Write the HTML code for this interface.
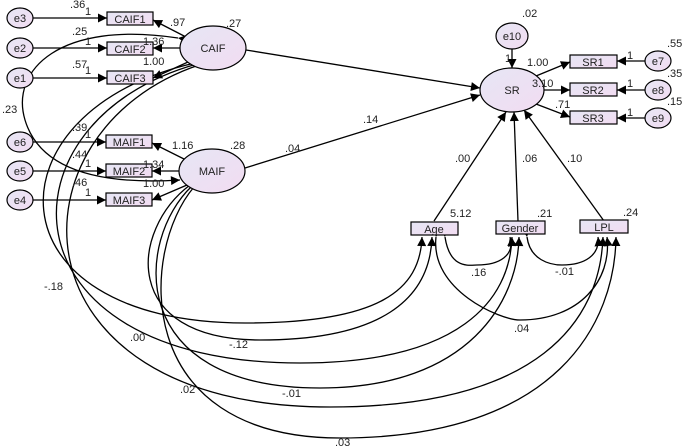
<!DOCTYPE html>
<html><head><meta charset="utf-8"><style>
body{margin:0;background:#fff}
svg{display:block}
text{font-family:"Liberation Sans",Arial,sans-serif;font-size:11px;fill:#222}
.n{font-size:11px;text-anchor:middle}
</style></head><body>
<svg width="685" height="448" viewBox="0 0 685 448" xmlns="http://www.w3.org/2000/svg">
<defs>
<marker id="a" viewBox="0 0 10 10" refX="10" refY="5" markerWidth="13" markerHeight="9" markerUnits="userSpaceOnUse" orient="auto"><path d="M0,0L10,5L0,10z" fill="#000"/></marker>
<linearGradient id="g" x1="0" y1="0" x2="1" y2="1"><stop offset="0" stop-color="#e6e6f4"/><stop offset="1" stop-color="#f2dcf2"/></linearGradient>
</defs>
<g fill="none" stroke="#000" stroke-width="1.3">
<path d="M178,38 C60,20 10,70 25,120 C40,170 100,185 180,180" marker-end="url(#a)" marker-start="url(#a)"/>
<path d="M195,63 C-15,110 -15,323 245,323 C380,323 420,290 422,237" marker-end="url(#a)"/>
<path d="M197,64 C-5,120 -5,363 300,363 C460,363 510,300 512,237" marker-end="url(#a)"/>
<path d="M199,65 C5,130 5,407 330,407 C540,407 600,320 603,237" marker-end="url(#a)"/>
<path d="M190,185 C130,230 120,340 260,340 C380,340 430,300 432,237" marker-end="url(#a)"/>
<path d="M192,186 C135,240 125,388 320,388 C470,388 518,300 519,237" marker-end="url(#a)"/>
<path d="M194,187 C140,250 130,438 340,438 C560,438 615,320 616,237" marker-end="url(#a)"/>
<path d="M436,237 C430,290 500,320 520,320 C580,320 612,280 607,237" marker-start="url(#a)" marker-end="url(#a)"/>
<path d="M445,237 C450,270 470,265 477,265 C500,265 515,255 510,237" marker-start="url(#a)" marker-end="url(#a)"/>
<path d="M527,237 C530,260 550,265 562,265 C585,265 600,255 598,237" marker-start="url(#a)" marker-end="url(#a)"/>
<path d="M33,18 H107" marker-end="url(#a)"/>
<path d="M33,48 H107" marker-end="url(#a)"/>
<path d="M33,78 H107" marker-end="url(#a)"/>
<path d="M33,142 H106" marker-end="url(#a)"/>
<path d="M33,171 H106" marker-end="url(#a)"/>
<path d="M33,200 H106" marker-end="url(#a)"/>
<path d="M186,37 L153,20" marker-end="url(#a)"/>
<path d="M180,48 L153,48" marker-end="url(#a)"/>
<path d="M188,62 L153,78" marker-end="url(#a)"/>
<path d="M186,160 L152,143" marker-end="url(#a)"/>
<path d="M179,171 L152,171" marker-end="url(#a)"/>
<path d="M187,185 L152,200" marker-end="url(#a)"/>
<path d="M246,50 L480,88" marker-end="url(#a)"/>
<path d="M245,168 L480,95" marker-end="url(#a)"/>
<path d="M512,49 L512,68" marker-end="url(#a)"/>
<path d="M536,76 L570,62" marker-end="url(#a)"/>
<path d="M544,90 L570,90" marker-end="url(#a)"/>
<path d="M536,104 L570,117" marker-end="url(#a)"/>
<path d="M645,61 L617,61" marker-end="url(#a)"/>
<path d="M645,90 L617,90" marker-end="url(#a)"/>
<path d="M645,118 L617,118" marker-end="url(#a)"/>
<path d="M434,221 L506,112" marker-end="url(#a)"/>
<path d="M518,221 L514,112" marker-end="url(#a)"/>
<path d="M604,221 L524,110" marker-end="url(#a)"/>
</g>
<g stroke="#000" stroke-width="1.2" fill="url(#g)">
<ellipse cx="20" cy="18" rx="13" ry="10"/><ellipse cx="20" cy="48" rx="13" ry="10"/><ellipse cx="20" cy="78" rx="13" ry="10"/>
<ellipse cx="20" cy="142" rx="13" ry="10"/><ellipse cx="20" cy="171" rx="13" ry="10"/><ellipse cx="20" cy="200" rx="13" ry="10"/>
<ellipse cx="658" cy="61" rx="13" ry="10"/><ellipse cx="658" cy="90" rx="13" ry="10"/><ellipse cx="658" cy="118" rx="13" ry="10"/>
<ellipse cx="512" cy="36" rx="16" ry="13"/>
<ellipse cx="213" cy="48" rx="33" ry="22"/><ellipse cx="212" cy="171" rx="33" ry="22"/><ellipse cx="512" cy="90" rx="32" ry="22"/>
<rect x="107" y="12" width="46" height="13"/><rect x="107" y="42" width="46" height="13"/><rect x="107" y="71" width="46" height="13"/>
<rect x="106" y="135" width="46" height="13"/><rect x="106" y="164" width="46" height="13"/><rect x="106" y="193" width="46" height="13"/>
<rect x="570" y="55" width="47" height="13"/><rect x="570" y="83" width="47" height="13"/><rect x="570" y="111" width="47" height="13"/>
<rect x="411" y="222" width="47" height="13"/><rect x="496" y="221" width="49" height="13"/><rect x="580" y="220" width="48" height="13"/>
</g>
<g class="n">
<text x="20" y="22" class="n">e3</text><text x="20" y="52" class="n">e2</text><text x="20" y="82" class="n">e1</text>
<text x="20" y="146" class="n">e6</text><text x="20" y="175" class="n">e5</text><text x="20" y="204" class="n">e4</text>
<text x="658" y="65" class="n">e7</text><text x="658" y="94" class="n">e8</text><text x="658" y="122" class="n">e9</text>
<text x="512" y="40" class="n">e10</text>
<text x="213" y="52" class="n">CAIF</text><text x="212" y="175" class="n">MAIF</text><text x="512" y="94" class="n">SR</text>
<text x="130" y="23" class="n">CAIF1</text><text x="130" y="53" class="n">CAIF2</text><text x="130" y="82" class="n">CAIF3</text>
<text x="129" y="146" class="n">MAIF1</text><text x="129" y="175" class="n">MAIF2</text><text x="129" y="204" class="n">MAIF3</text>
<text x="593" y="66" class="n">SR1</text><text x="593" y="94" class="n">SR2</text><text x="593" y="122" class="n">SR3</text>
<text x="434" y="233" class="n">Age</text><text x="520" y="232" class="n">Gender</text><text x="604" y="231" class="n">LPL</text>
</g>
<g>
<text x="70" y="8">.36</text><text x="85" y="15">1</text>
<text x="72" y="35">.25</text><text x="85" y="45">1</text>
<text x="72" y="68">.57</text><text x="85" y="74">1</text>
<text x="72" y="131">.39</text><text x="85" y="138">1</text>
<text x="72" y="158">.44</text><text x="85" y="167">1</text>
<text x="72" y="186">.46</text><text x="85" y="196">1</text>
<text x="170" y="26">.97</text><text x="226" y="27">.27</text>
<text x="143" y="45">1.36</text><text x="143" y="65">1.00</text>
<text x="2" y="113">.23</text>
<text x="172" y="149">1.16</text><text x="230" y="149">.28</text>
<text x="143" y="168">1.34</text><text x="143" y="187">1.00</text>
<text x="363" y="123">.14</text><text x="285" y="152">.04</text>
<text x="522" y="17">.02</text><text x="505" y="62">1</text>
<text x="527" y="66">1.00</text><text x="532" y="87">3.10</text><text x="555" y="108">.71</text>
<text x="627" y="59">1</text><text x="627" y="87">1</text><text x="627" y="116">1</text>
<text x="667" y="47">.55</text><text x="667" y="77">.35</text><text x="667" y="105">.15</text>
<text x="455" y="162">.00</text><text x="522" y="162">.06</text><text x="567" y="162">.10</text>
<text x="450" y="217">5.12</text><text x="537" y="217">.21</text><text x="623" y="216">.24</text>
<text x="471" y="276">.16</text><text x="555" y="275">-.01</text>
<text x="44" y="290">-.18</text><text x="130" y="341">.00</text><text x="229" y="348">-.12</text>
<text x="514" y="332">.04</text><text x="180" y="393">.02</text><text x="282" y="397">-.01</text><text x="335" y="446">.03</text>
</g>
</svg>
</body></html>
